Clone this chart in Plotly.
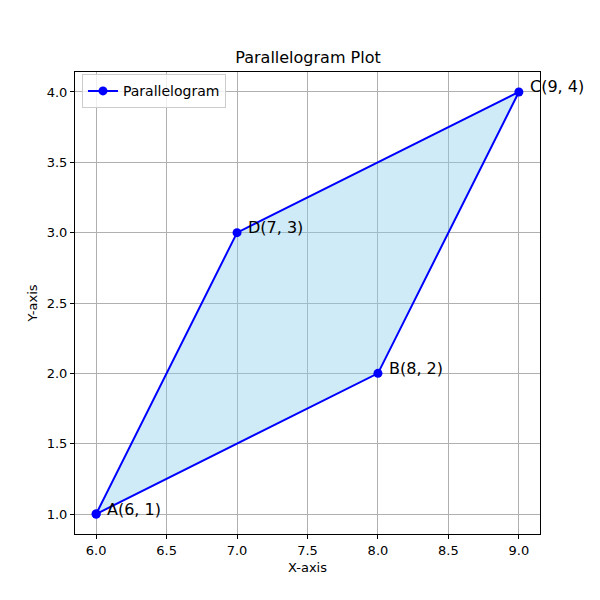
import plotly.graph_objects as go

# Parallelogram vertices
labels = ["A", "B", "C", "D"]
xs = [6, 8, 9, 7]
ys = [1, 2, 4, 3]

# close the shape
x_closed = xs + [xs[0]]
y_closed = ys + [ys[0]]

fig = go.Figure()

# light blue fill
fig.add_trace(go.Scatter(
    x=x_closed, y=y_closed,
    fill="toself", fillcolor="rgba(135,206,235,0.4)",
    mode="none", showlegend=False, hoverinfo="skip",
))

# outline with markers
fig.add_trace(go.Scatter(
    x=x_closed, y=y_closed,
    mode="lines+markers", name="Parallelogram",
    line=dict(color="blue", width=2),
    marker=dict(color="blue", size=9),
))

# vertex labels
for lab, x, y in zip(labels, xs, ys):
    fig.add_annotation(
        x=x, y=y, text=f"{lab}({x}, {y})",
        showarrow=False, xanchor="left", yanchor="middle",
        xshift=9, yshift=5,
        font=dict(size=16, color="black"),
    )

axis_style = dict(
    showline=True, linecolor="black", linewidth=1, mirror=True,
    ticks="outside", ticklen=4, tickcolor="black",
    showgrid=True, gridcolor="#b0b0b0", gridwidth=1,
    zeroline=False, dtick=0.5, tickformat=".1f",
    tickfont=dict(size=13, color="black"),
)

fig.update_xaxes(range=[5.85, 9.15], title=dict(text="X-axis", font=dict(size=13), standoff=6), **axis_style)
fig.update_yaxes(range=[0.858, 4.142], title=dict(text="Y-axis", font=dict(size=13), standoff=6), **axis_style)

fig.update_layout(
    width=600, height=600,
    font=dict(family="DejaVu Sans", color="black"),
    title=dict(text="Parallelogram Plot", x=0.5, xanchor="center", y=0.917, yanchor="middle",
               font=dict(size=16)),
    plot_bgcolor="white", paper_bgcolor="white",
    margin=dict(l=67, r=68, t=64, b=74),
    legend=dict(x=0.015, y=0.995, xanchor="left", yanchor="top",
                bgcolor="rgba(255,255,255,0.8)", bordercolor="#cccccc", borderwidth=1,
                font=dict(size=14), tracegroupgap=0),
    showlegend=True,
)

fig.write_html("out.html")
